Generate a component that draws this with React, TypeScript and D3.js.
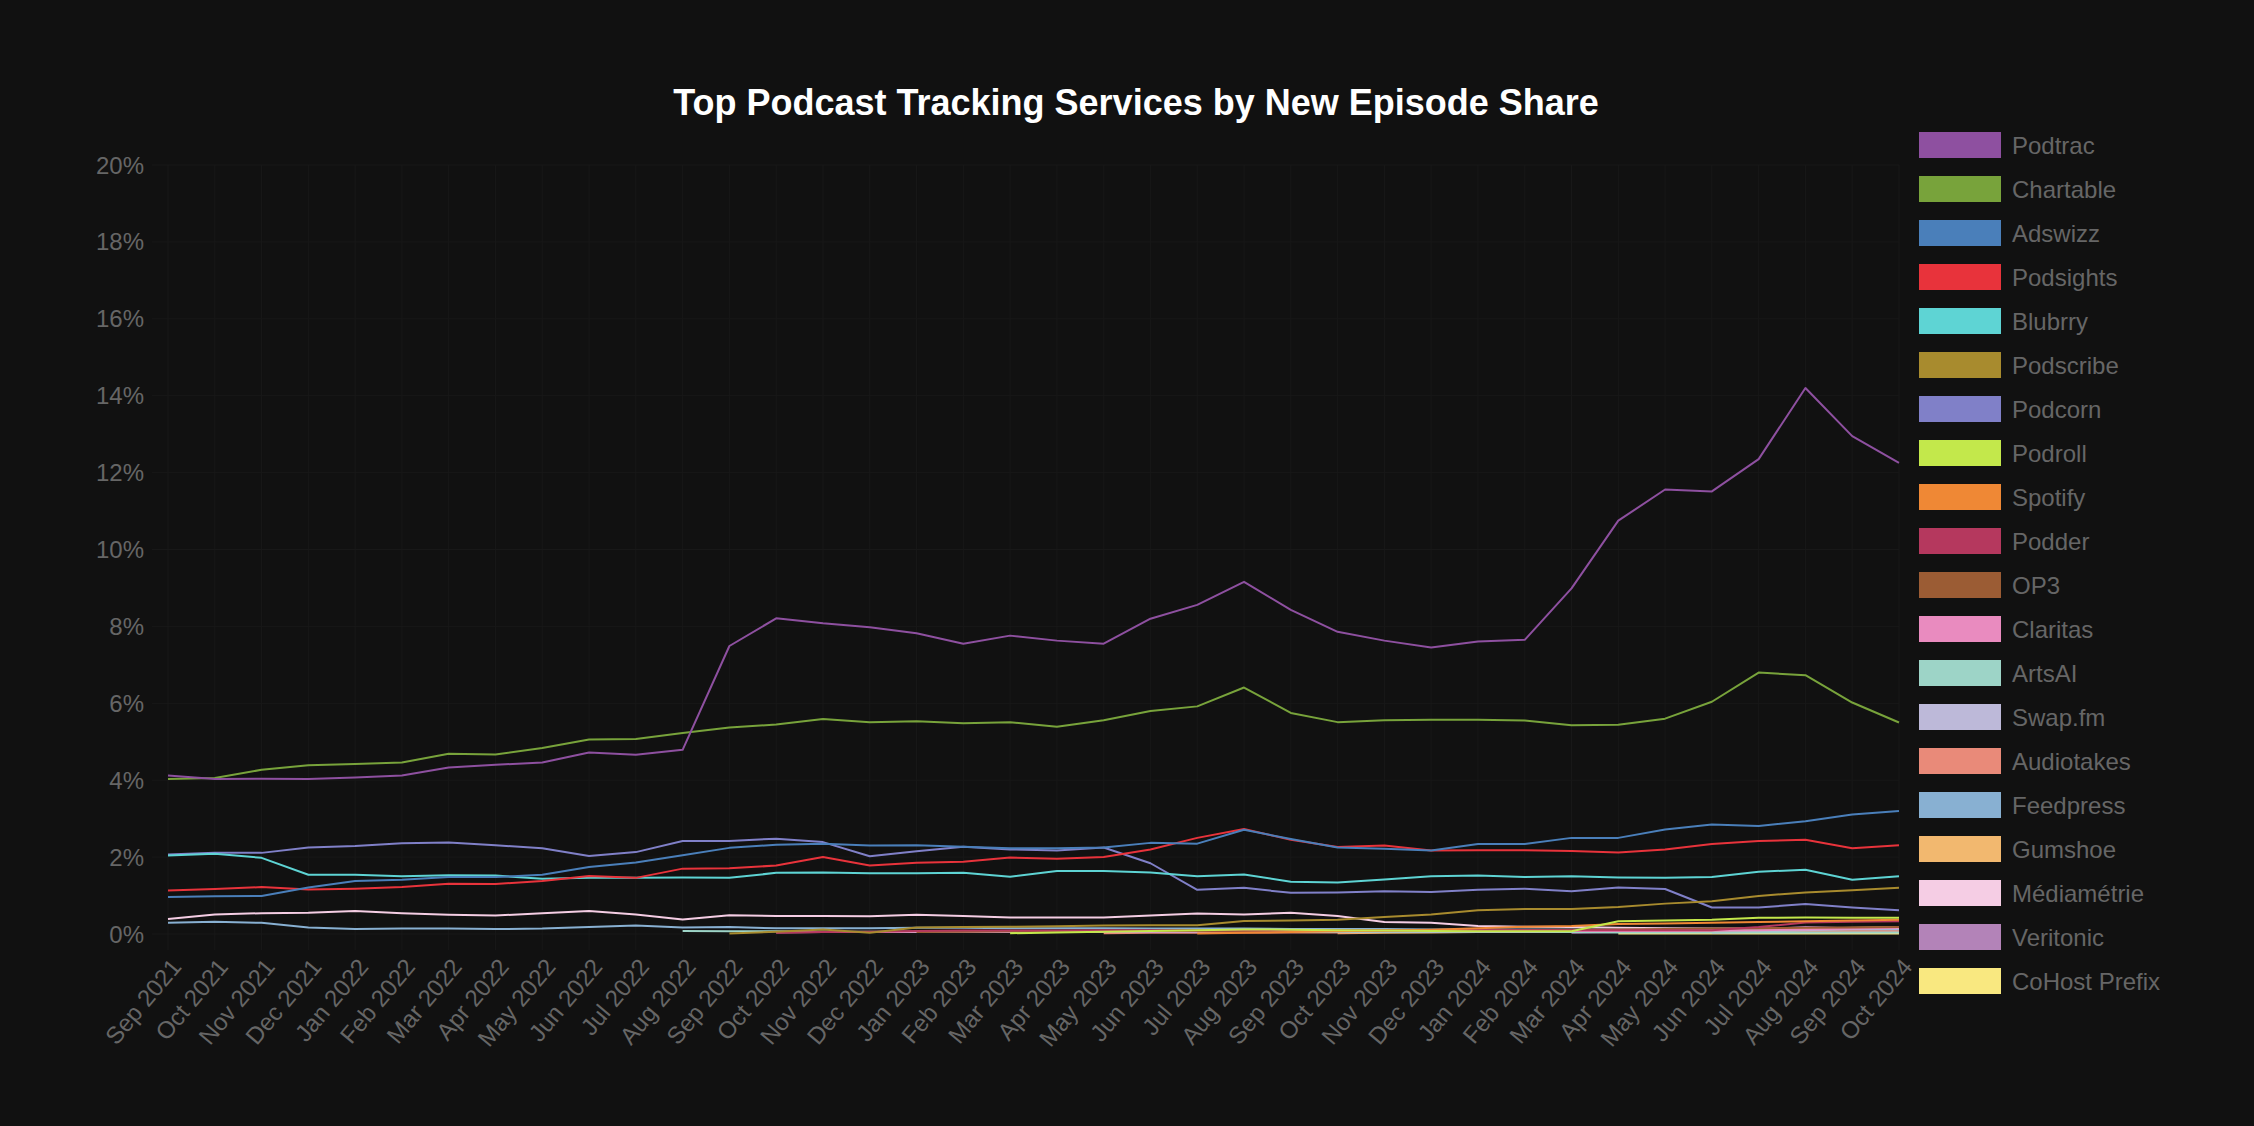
import React from "react";
import * as d3 from "d3";

const months = [
  "Sep 2021","Oct 2021","Nov 2021","Dec 2021","Jan 2022","Feb 2022","Mar 2022","Apr 2022","May 2022","Jun 2022",
  "Jul 2022","Aug 2022","Sep 2022","Oct 2022","Nov 2022","Dec 2022","Jan 2023","Feb 2023","Mar 2023","Apr 2023",
  "May 2023","Jun 2023","Jul 2023","Aug 2023","Sep 2023","Oct 2023","Nov 2023","Dec 2023","Jan 2024","Feb 2024",
  "Mar 2024","Apr 2024","May 2024","Jun 2024","Jul 2024","Aug 2024","Sep 2024","Oct 2024",
];

const yTicks = [0, 2, 4, 6, 8, 10, 12, 14, 16, 18, 20];

const pad = (k: number) => Array(k).fill(null);

const podtrac = [4.12,4.03,4.04,4.03,4.07,4.12,4.33,4.40,4.46,4.72,4.66,4.79,7.49,8.21,8.08,7.98,7.82,7.55,7.76,7.63,7.55,8.20,8.56,9.16,8.43,7.86,7.63,7.45,7.61,7.65,8.99,10.75,11.56,11.51,12.35,14.2,12.95,12.25];
const chartable = [4.03,4.06,4.27,4.39,4.42,4.46,4.69,4.67,4.84,5.06,5.07,5.23,5.37,5.45,5.59,5.51,5.53,5.48,5.51,5.39,5.56,5.80,5.92,6.41,5.75,5.51,5.56,5.57,5.57,5.55,5.43,5.44,5.60,6.04,6.80,6.73,6.02,5.50];
const adswizz = [0.96,0.98,0.99,1.21,1.38,1.41,1.48,1.48,1.54,1.74,1.86,2.05,2.24,2.32,2.35,2.30,2.31,2.27,2.23,2.23,2.25,2.37,2.35,2.71,2.47,2.25,2.22,2.17,2.34,2.34,2.50,2.50,2.72,2.85,2.81,2.93,3.11,3.20];
const podsights = [1.13,1.17,1.22,1.16,1.18,1.22,1.31,1.30,1.38,1.51,1.46,1.70,1.71,1.78,2.00,1.78,1.85,1.88,1.99,1.96,2.00,2.20,2.50,2.73,2.45,2.26,2.30,2.17,2.18,2.18,2.16,2.12,2.20,2.34,2.42,2.45,2.23,2.31];
const blubrry = [2.04,2.09,1.98,1.54,1.54,1.50,1.53,1.52,1.44,1.46,1.46,1.47,1.46,1.59,1.60,1.58,1.58,1.59,1.49,1.64,1.64,1.60,1.50,1.55,1.36,1.34,1.42,1.50,1.52,1.48,1.50,1.47,1.46,1.48,1.62,1.67,1.41,1.50];
const podscribe = [...pad(12),0.01,0.06,0.12,0.03,0.17,0.18,0.19,0.20,0.22,0.23,0.23,0.34,0.35,0.37,0.44,0.51,0.62,0.65,0.65,0.70,0.79,0.85,0.99,1.08,1.14,1.20];
const podcorn = [2.07,2.11,2.11,2.25,2.29,2.36,2.38,2.31,2.23,2.03,2.13,2.42,2.42,2.48,2.39,2.02,2.15,2.27,2.20,2.17,2.25,1.84,1.15,1.20,1.07,1.08,1.11,1.09,1.15,1.18,1.11,1.21,1.17,0.69,0.69,0.78,0.69,0.62];
const podroll = [...pad(18),0.02,0.04,0.06,0.08,0.10,0.12,0.11,0.10,0.09,0.08,0.07,0.07,0.07,0.33,0.35,0.37,0.42,0.43,0.42,0.42];
const spotify = [...pad(22),0.01,0.03,0.05,0.07,0.09,0.11,0.15,0.19,0.21,0.26,0.27,0.29,0.31,0.33,0.35,0.37];
const podder = [...pad(13),0.03,0.05,0.06,0.08,0.09,0.09,0.09,0.10,0.10,0.10,0.10,0.10,0.10,0.10,0.10,0.10,0.10,0.10,0.10,0.10,0.10,0.18,0.30,0.32,0.33];
const op3 = [...pad(16),0.05,0.06,0.07,0.07,0.08,0.08,0.08,0.08,0.09,0.09,0.09,0.10,0.10,0.10,0.11,0.12,0.13,0.14,0.15,0.16,0.17,0.18];
const claritas = [...pad(13),0.04,0.05,0.05,0.06,0.06,0.06,0.06,0.06,0.06,0.06,0.06,0.07,0.07,0.07,0.07,0.07,0.07,0.08,0.08,0.08,0.09,0.10,0.12,0.14,0.16];
const artsai = [...pad(11),0.08,0.07,0.07,0.06,0.06,0.05,0.05,0.05,0.05,0.05,0.05,0.05,0.05,0.05,0.05,0.05,0.05,0.05,0.05,0.05,0.04,0.04,0.04,0.04,0.04,0.04,0.04];
const swapfm = [...pad(33),0.03,0.06,0.10,0.13,0.16];
const audiotakes = [...pad(20),0.02,0.03,0.03,0.04,0.04,0.04,0.05,0.05,0.05,0.05,0.05,0.06,0.06,0.06,0.06,0.07,0.07,0.07];
const feedpress = [0.29,0.32,0.29,0.17,0.13,0.14,0.14,0.13,0.14,0.18,0.22,0.17,0.18,0.15,0.15,0.15,0.16,0.16,0.15,0.15,0.15,0.14,0.14,0.14,0.13,0.13,0.13,0.12,0.12,0.12,0.12,0.11,0.11,0.10,0.10,0.10,0.10,0.10];
const gumshoe = [...pad(25),0.02,0.03,0.04,0.05,0.06,0.07,0.08,0.09,0.10,0.12,0.14,0.16,0.18];
const mediametrie = [0.39,0.51,0.54,0.55,0.60,0.54,0.50,0.48,0.54,0.60,0.51,0.38,0.49,0.47,0.47,0.46,0.50,0.47,0.43,0.43,0.43,0.48,0.53,0.51,0.55,0.47,0.31,0.29,0.21,0.19,0.18,0.16,0.15,0.14,0.14,0.13,0.13,0.13];
const veritonic = [...pad(30),0.03,0.05,0.07,0.09,0.12,0.18,0.15,0.14];
const cohost = [...pad(31),0.01,0.01,0.01,0.01,0.01,0.01,0.01];

const seriesNames = ["Podtrac","Chartable","Adswizz","Podsights","Blubrry","Podscribe","Podcorn","Podroll","Spotify","Podder","OP3","Claritas","ArtsAI","Swap.fm","Audiotakes","Feedpress","Gumshoe","Médiamétrie","Veritonic","CoHost Prefix"];
const seriesValues = [podtrac,chartable,adswizz,podsights,blubrry,podscribe,podcorn,podroll,spotify,podder,op3,claritas,artsai,swapfm,audiotakes,feedpress,gumshoe,mediametrie,veritonic,cohost];
const seriesColors = ["#8e50a0","#78a33b","#4a7fba","#e8333b","#5ed4d4","#a88b2e","#8080c8","#c3e84b","#ef8835","#b5385e","#9b5c34","#e98bbf","#9dd4c7","#bdb9d9","#e98a79","#88b0d2","#f2b86f","#f5cde4","#b383b8","#f9e880"];

const W = 2254;
const H = 1126;
const FONT = "'Liberation Sans', Arial, Helvetica, sans-serif";

export default function App() {
  const x = d3.scalePoint<string>().domain(months).range([168, 1899]);
  const y = d3.scaleLinear().domain([0, 20]).range([934, 165]);
  const line = d3
    .line<number | null>()
    .defined((d) => d != null)
    .x((_, i) => x(months[i]) as number)
    .y((d) => y(d as number));

  const order = seriesNames.map((_, i) => i).reverse();

  return (
    <svg
      width={W}
      height={H}
      style={{ position: "fixed", left: 0, top: 0, background: "#111111", display: "block" }}
    >
      <rect x={0} y={0} width={W} height={H} fill="#111111" />
      <text
        x={1136}
        y={115}
        textAnchor="middle"
        fill="#ffffff"
        fontFamily={FONT}
        fontWeight="bold"
        fontSize={36}
      >
        Top Podcast Tracking Services by New Episode Share
      </text>

      {/* grid */}
      <g stroke="#181818" strokeWidth={1}>
        {months.map((m) => (
          <line key={m} x1={x(m)} x2={x(m)} y1={165} y2={950} />
        ))}
        {yTicks.map((t) => (
          <line key={t} x1={152} x2={1899} y1={y(t)} y2={y(t)} />
        ))}
      </g>

      {/* y tick labels */}
      <g fill="#666666" fontFamily={FONT} fontSize={24}>
        {yTicks.map((t) => (
          <text key={t} x={144} y={y(t)} textAnchor="end" dominantBaseline="central">
            {t}%
          </text>
        ))}
      </g>

      {/* x tick labels */}
      <g fill="#666666" fontFamily={FONT} fontSize={24}>
        {months.map((m) => {
          const px = (x(m) as number) + 8;
          const py = 962;
          return (
            <text
              key={m}
              x={px}
              y={py}
              textAnchor="end"
              dominantBaseline="central"
              transform={`rotate(-50, ${px}, ${py})`}
            >
              {m}
            </text>
          );
        })}
      </g>

      {/* lines */}
      <g fill="none" strokeWidth={2} strokeLinejoin="round">
        {order.map((i) => (
          <path key={seriesNames[i]} d={line(seriesValues[i] as (number | null)[]) || ""} stroke={seriesColors[i]} />
        ))}
      </g>

      {/* legend */}
      <g fontFamily={FONT} fontSize={24}>
        {seriesNames.map((name, i) => {
          const top = 133 + i * 44;
          return (
            <g key={name}>
              <rect x={1920} y={top} width={80} height={24} fill={seriesColors[i]} stroke={seriesColors[i]} strokeWidth={2} />
              <text x={2012} y={top + 12} fill="#666666" dominantBaseline="central">
                {name}
              </text>
            </g>
          );
        })}
      </g>
    </svg>
  );
}
